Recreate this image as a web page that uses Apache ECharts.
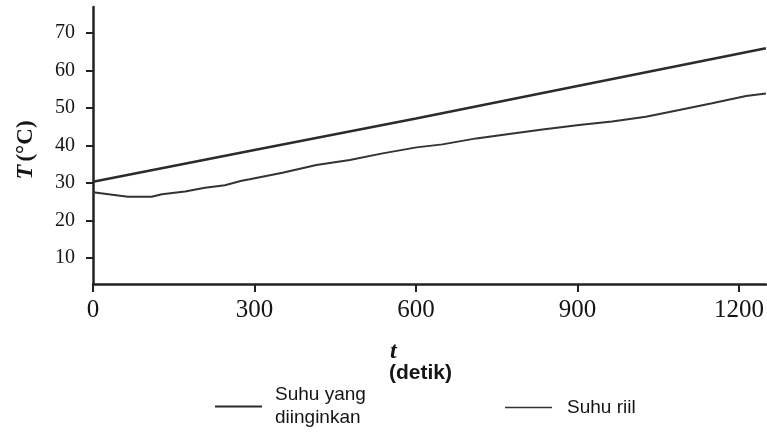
<!DOCTYPE html>
<html>
<head>
<meta charset="utf-8">
<script src="https://cdn.jsdelivr.net/npm/echarts@6/dist/echarts.min.js"></script>
<style>
html,body{margin:0;padding:0;background:#fff;}
#chart{width:767px;height:442px;}
</style>
</head>
<body>
<div id="chart"></div>
<script>
// Desired temperature (Suhu yang diinginkan): [t (s), T (°C)]
const desiredT = [0, 300, 600, 900, 1250];
const desiredV = [30.3, 38.8, 47.2, 55.9, 66.0];
// Real temperature (Suhu riil)
const realT = [0, 65, 109, 128, 171, 208, 245, 276, 291, 352, 415, 477, 538, 601, 649, 712, 773, 835, 903, 964, 1027, 1089, 1150, 1213, 1250];
const realV = [27.5, 26.3, 26.3, 27.0, 27.7, 28.7, 29.4, 30.6, 31.0, 32.7, 34.8, 36.1, 37.9, 39.5, 40.3, 41.9, 43.1, 44.3, 45.5, 46.4, 47.7, 49.5, 51.3, 53.2, 53.9];
const xTicks = [0, 300, 600, 900, 1200];
const yTicks = [10, 20, 30, 40, 50, 60, 70];
const seriesNames = ['Suhu yang diinginkan', 'Suhu riil'];

const zip = (a, b) => a.map((v, i) => [v, b[i]]);
const ink = '#222';
const txt = '#151515';

const chart = echarts.init(document.getElementById('chart'), null, {renderer: 'canvas'});
chart.setOption({
  backgroundColor: '#fff',
  animation: false,
  grid: {left: 93, right: 0, top: 7, bottom: 158, containLabel: false},
  xAxis: {
    type: 'value', min: 0, max: 1250,
    splitLine: {show: false},
    axisLine: {lineStyle: {color: ink, width: 2.5}},
    axisTick: {show: true, length: 8, lineStyle: {color: ink, width: 2}, customValues: xTicks},
    axisLabel: {
      customValues: xTicks, margin: 14, formatter: v => String(v),
      fontFamily: 'Liberation Serif', fontSize: 25, color: txt
    }
  },
  yAxis: {
    type: 'value', min: 3, max: 77,
    splitLine: {show: false},
    axisLine: {show: true, lineStyle: {color: ink, width: 2.5}},
    axisTick: {show: true, length: 7, lineStyle: {color: ink, width: 2}, customValues: yTicks},
    axisLabel: {
      customValues: yTicks, margin: 18, formatter: v => String(v),
      fontFamily: 'Liberation Serif', fontSize: 20, color: txt
    }
  },
  legend: [
    {
      left: 215, top: 372, padding: 0,
      data: [seriesNames[0]],
      icon: 'rect', itemWidth: 47, itemHeight: 2,
      formatter: () => 'Suhu yang\ndiinginkan',
      textStyle: {fontFamily: 'Liberation Sans', fontSize: 19, lineHeight: 23, color: txt, padding: [23, 0, 0, 8]}
    },
    {
      left: 505, top: 396, padding: 0,
      data: [seriesNames[1]],
      icon: 'rect', itemWidth: 47, itemHeight: 1.5,
      textStyle: {fontFamily: 'Liberation Sans', fontSize: 19, lineHeight: 23, color: txt, padding: [0, 0, 0, 10]}
    }
  ],
  graphic: [
    {
      type: 'text', x: 26, y: 150, rotation: Math.PI / 2,
      style: {
        text: '{i|T} {b|(°C)}',
        align: 'center', verticalAlign: 'middle',
        rich: {
          i: {fontFamily: 'Liberation Serif', fontStyle: 'italic', fontWeight: 'bold', fontSize: 24, fill: txt},
          b: {fontFamily: 'Liberation Serif', fontWeight: 'bold', fontSize: 23, fill: txt}
        }
      }
    },
    {
      type: 'text', x: 390, y: 352,
      style: {text: 't', fontFamily: 'Liberation Serif', fontStyle: 'italic', fontWeight: 'bold', fontSize: 24, fill: txt, align: 'left', verticalAlign: 'middle'}
    },
    {
      type: 'text', x: 389, y: 373,
      style: {text: '(detik)', fontFamily: 'Liberation Sans', fontWeight: 'bold', fontSize: 21, fill: txt, align: 'left', verticalAlign: 'middle'}
    }
  ],
  series: [
    {
      name: seriesNames[0], type: 'line', showSymbol: false, symbol: 'none',
      data: zip(desiredT, desiredV),
      lineStyle: {color: '#2b2b2b', width: 2.6},
      itemStyle: {color: '#2b2b2b'}
    },
    {
      name: seriesNames[1], type: 'line', showSymbol: false, symbol: 'none',
      data: zip(realT, realV),
      lineStyle: {color: '#333', width: 2},
      itemStyle: {color: '#333'}
    }
  ]
});
</script>
</body>
</html>
